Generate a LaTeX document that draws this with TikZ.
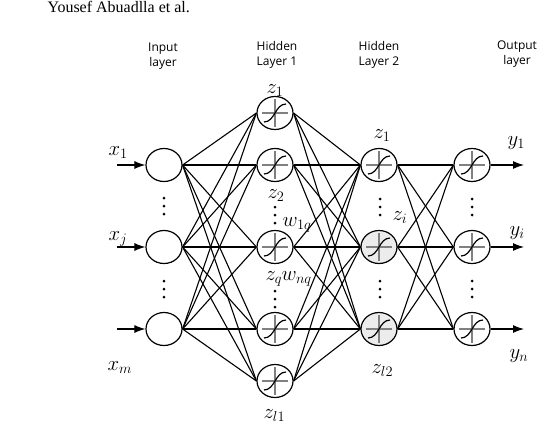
\documentclass[tikz,border=0pt]{standalone}
\usepackage{amsmath, amssymb}
\usepackage{fontspec}
\setmainfont{Liberation Serif}
\setsansfont{Open Sans}
\usepackage{tikz}
\usetikzlibrary{arrows.meta, shapes.geometric}

\tikzset{
  neuron/.style={ellipse, draw, line width=1.2pt, minimum width=36pt,
    minimum height=33pt, inner sep=0pt},
  actneuron/.style={neuron, path picture={
      \draw[gray, line width=1.5pt]
        ([xshift=-13pt]path picture bounding box.center) -- ([xshift=13pt]path picture bounding box.center)
        ([yshift=-14pt]path picture bounding box.center) -- ([yshift=14pt]path picture bounding box.center);
      \draw[line width=1.2pt]
        ([shift={(-11pt,-9pt)}]path picture bounding box.center)
        .. controls +(11pt,0pt) and +(-11pt,0pt) ..
        ([shift={(11pt,9pt)}]path picture bounding box.center);
    }},
  layertitle/.style={font=\fontsize{12}{14.5}\selectfont\sffamily, align=center, inner sep=0pt},
  lbl/.style={font=\fontsize{20}{24}\selectfont, anchor=base west, inner sep=0pt},
  arr/.style={-{Latex[length=11pt,width=8pt]}},
  vdot/.pic={\fill (0,-8) circle (1.5) (0,0) circle (1.5) (0,8) circle (1.5);},
}

\begin{document}
\begin{tikzpicture}[x=1pt, y=-1pt, line width=1.1pt]
      \useasboundingbox (0,0) rectangle (537,426);

      % 0. 頁首
      \node[font=\fontsize{16}{18}\selectfont, anchor=base west, inner sep=0pt] (author) at (47,12) {Yousef Abuadlla et al.};

      % 1. 各層標題
      \node[layertitle] (tin) at (163,56) {Input\\layer};
      \node[layertitle] (th1) at (277,55) {Hidden\\Layer 1};
      \node[layertitle] (th2) at (379,55) {Hidden\\Layer 2};
      \node[layertitle] (tout) at (517,54) {Output\\layer};

      % 2. 輸入層
      \node[neuron] (i1) at (164,165) {};
      \node[neuron] (ij) at (164,247) {};
      \node[neuron] (im) at (164,329) {};

      % 3. 隱藏層 1 與 隱藏層 2
      \node[actneuron] (h1) at (275,113) {};
      \node[actneuron] (h2) at (275,165) {};
      \node[actneuron] (hq) at (275,247) {};
      \node[actneuron] (hr) at (275,329) {};
      \node[actneuron] (hl) at (275,381) {};
      \node[actneuron] (g1) at (379,165) {};
      \node[actneuron, fill=gray!15] (gi) at (379,247) {};
      \node[actneuron, fill=gray!15] (gl) at (379,329) {};

      % 4. 輸出層
      \node[actneuron] (o1) at (472,165) {};
      \node[actneuron] (oi) at (472,247) {};
      \node[actneuron] (on) at (472,329) {};

      % 5. 連線
      \foreach \a in {i1,ij,im}
        \foreach \b in {h1,h2,hq,hr,hl}
          \draw (\a.east) -- (\b.west);
      \foreach \a in {h1,h2,hq,hr,hl}
        \foreach \b in {g1,gi,gl}
          \draw (\a.east) -- (\b.west);
      \foreach \a in {g1,gi,gl}
        \foreach \b in {o1,oi,on}
          \draw (\a.east) -- (\b.west);

      % 6. 輸入與輸出箭頭
      \coordinate (a1) at (117,165);
      \coordinate (aj) at (117,247);
      \coordinate (am) at (117,329);
      \coordinate (b1) at (524,165);
      \coordinate (bi) at (524,247);
      \coordinate (bn) at (524,329);
      \draw[arr] (a1) -- (i1.west);
      \draw[arr] (aj) -- (ij.west);
      \draw[arr] (am) -- (im.west);
      \draw[arr] (o1.east) -- (b1);
      \draw[arr] (oi.east) -- (bi);
      \draw[arr] (on.east) -- (bn);

      % 7. 標籤
      \node[lbl] (lx1) at (108,155) {$x_1$};
      \node[lbl] (lxj) at (108,240) {$x_j$};
      \node[lbl] (lxm) at (107,370) {$x_m$};
      \node[lbl] (lz1) at (266,93) {$z_1$};
      \node[lbl] (lz2) at (267,198) {$z_2$};
      \node[lbl] (lw1) at (282,226) {$w_{1q}$};
      \node[lbl] (lzq) at (265,280) {$z_q$};
      \node[lbl] (lwn) at (281,280) {$w_{nq}$};
      \node[lbl] (lzl1) at (263,418) {$z_{l1}$};
      \node[lbl] (lg1) at (373,138) {$z_1$};
      \node[lbl] (lgi) at (392,220) {$z_i$};
      \node[lbl] (lgl2) at (371,373) {$z_{l2}$};
      \node[lbl] (ly1) at (507,145) {$y_1$};
      \node[lbl] (lyi) at (509,235) {$y_i$};
      \node[lbl] (lyn) at (509,358) {$y_n$};

      % 8. 省略點
      \pic at (164,206) {vdot};
      \pic at (164,289) {vdot};
      \pic at (275,215) {vdot};
      \pic at (275,299) {vdot};
      \pic at (380,207) {vdot};
      \pic at (380,289) {vdot};
      \pic at (472,207) {vdot};
      \pic at (472,289) {vdot};
\end{tikzpicture}
\end{document}
